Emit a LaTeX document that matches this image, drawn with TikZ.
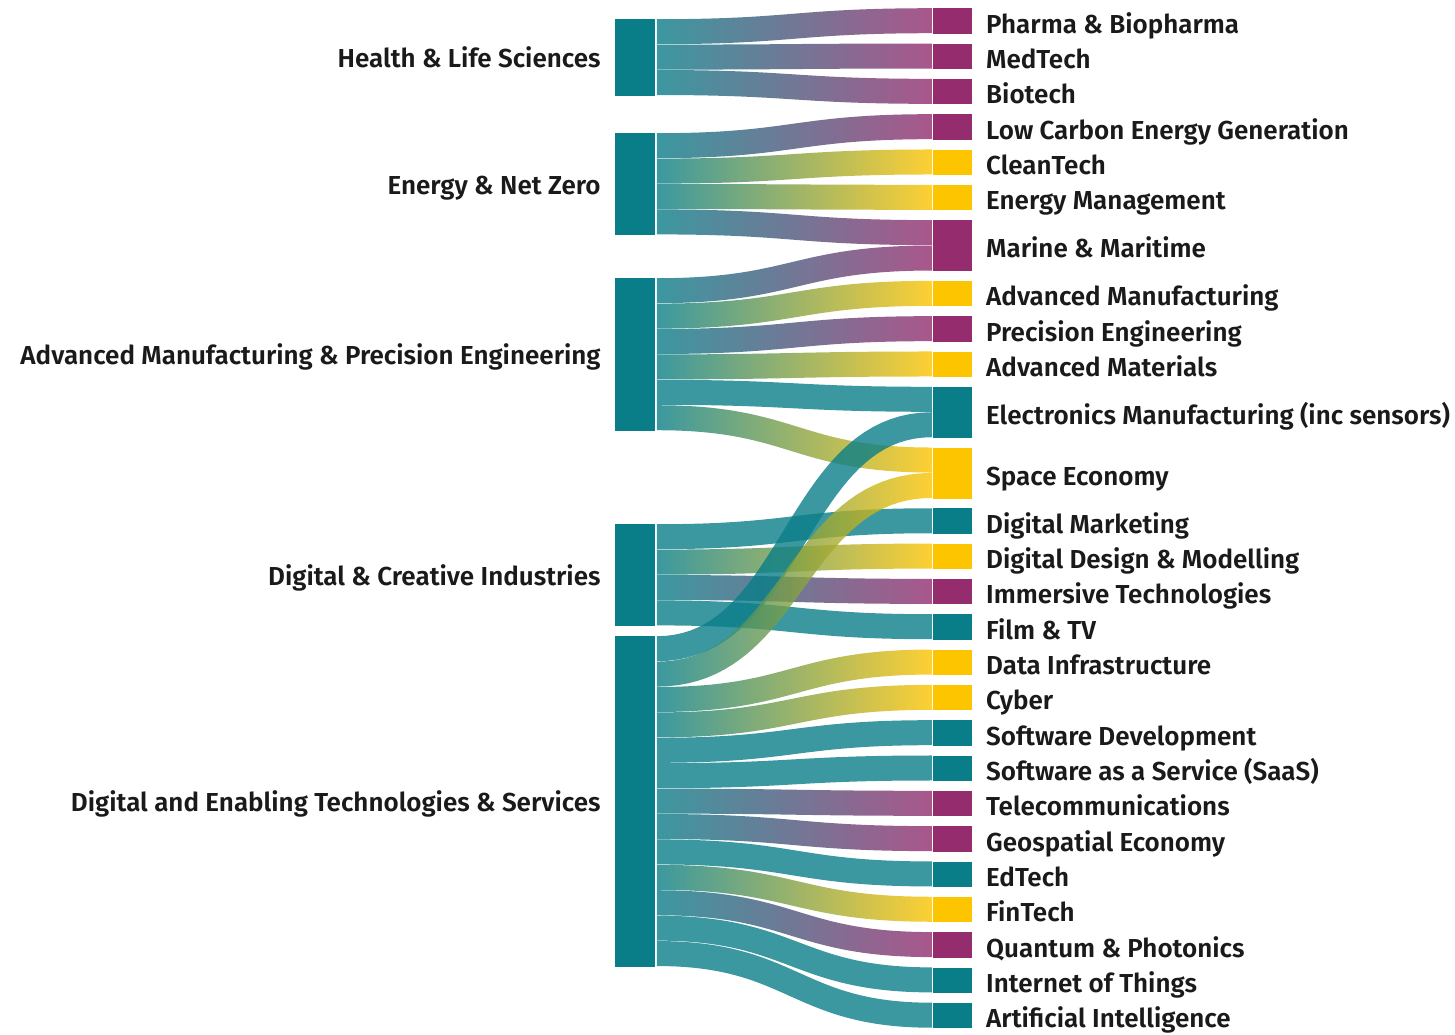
\documentclass[tikz,border=0pt]{standalone}
\usepackage{fontspec}
\setmainfont{Fira Sans SemiBold}
\usetikzlibrary{calc}
\definecolor{tl}{HTML}{0A7E88}
\definecolor{mg}{HTML}{942C6E}
\definecolor{yl}{HTML}{FDC400}
\definecolor{txt}{HTML}{1A1A1A}
\newdimen\fdx
\newdimen\fdy
% #1 source node, #2 slot, #3 target node, #4 slot, #5 #6 colours
\newcommand\flowband[6]{%
  \path (#1.north east) ++(2,#2*25.4+12.7) coordinate (fa);
  \path (#3.north west) ++(-1,#4*25.4+12.7) coordinate (fb);
  \pgfextractx{\fdx}{\pgfpointanchor{fa}{center}}%
  \pgfextracty{\fdy}{\pgfpointanchor{fa}{center}}%
  \pgfmathsetmacro\xa{\fdx/0.5}\pgfmathsetmacro\ya{-\fdy/0.5}%
  \pgfextractx{\fdx}{\pgfpointanchor{fb}{center}}%
  \pgfextracty{\fdy}{\pgfpointanchor{fb}{center}}%
  \pgfmathsetmacro\xb{\fdx/0.5}\pgfmathsetmacro\yb{-\fdy/0.5}%
  \shade[flowband, left color=#5, right color=#6]
    plot[domain=0:1, samples=41, variable=\t]
      ({sx(\t)+12.5*dY(\t)/nL(\t)}, {sy(\t)-12.5*dX(\t)/nL(\t)})
    -- plot[domain=1:0, samples=41, variable=\t]
      ({sx(\t)-12.5*dY(\t)/nL(\t)}, {sy(\t)+12.5*dX(\t)/nL(\t)})
    -- cycle;
}
\begin{document}
\begin{tikzpicture}[x=0.5pt,y=-0.5pt,
  declare function={
    sx(\u)=\xa+(\xb-\xa)*(1.5*\u-1.5*\u*\u+\u*\u*\u);
    sy(\u)=\ya+(\yb-\ya)*(3*\u*\u-2*\u*\u*\u);
    dX(\u)=(\xb-\xa)*(1.5-3*\u+3*\u*\u)/100;
    dY(\u)=(\yb-\ya)*(6*\u-6*\u*\u)/100;
    nL(\u)=veclen(dX(\u),dY(\u));
  },
  lbar/.style={fill=tl, draw=none, inner sep=0pt, minimum width=19.5pt, minimum height=#1*12.7pt, anchor=north west},
  rbar/.style={draw=none, inner sep=0pt, minimum width=19.5pt, minimum height=#1*12.7pt, anchor=north west},
  flowband/.style={fill opacity=0.8},
  ltext/.style={anchor=base east, inner sep=0pt, text=txt, font=\fontsize{13}{15}\selectfont},
  rtext/.style={anchor=base west, inner sep=0pt, text=txt, font=\fontsize{13}{15}\selectfont}]
\useasboundingbox (0,0) rectangle (1455,1034);
% left nodes
\node[lbar=3] (H) at (615,19) {};
\node[lbar=4] (E) at (615,133) {};
\node[lbar=6] (A) at (615,278) {};
\node[lbar=4] (D) at (615,524) {};
\node[lbar=13] (T) at (615,636) {};
% right nodes
\node[rbar=1, fill=mg] (r1) at (933,8) {};
\node[rbar=1, fill=mg] (r2) at (933,43.32) {};
\node[rbar=1, fill=mg] (r3) at (933,78.64) {};
\node[rbar=1, fill=mg] (r4) at (933,113.96) {};
\node[rbar=1, fill=yl] (r5) at (933,149.28) {};
\node[rbar=1, fill=yl] (r6) at (933,184.6) {};
\node[rbar=2, fill=mg] (r7) at (933,219.92) {};
\node[rbar=1, fill=yl] (r8) at (933,280.64) {};
\node[rbar=1, fill=mg] (r9) at (933,315.96) {};
\node[rbar=1, fill=yl] (r10) at (933,351.28) {};
\node[rbar=2, fill=tl] (r11) at (933,386.6) {};
\node[rbar=2, fill=yl] (r12) at (933,447.32) {};
\node[rbar=1, fill=tl] (r13) at (933,508.04) {};
\node[rbar=1, fill=yl] (r14) at (933,543.36) {};
\node[rbar=1, fill=mg] (r15) at (933,578.68) {};
\node[rbar=1, fill=tl] (r16) at (933,614.0) {};
\node[rbar=1, fill=yl] (r17) at (933,649.32) {};
\node[rbar=1, fill=yl] (r18) at (933,684.64) {};
\node[rbar=1, fill=tl] (r19) at (933,719.96) {};
\node[rbar=1, fill=tl] (r20) at (933,755.28) {};
\node[rbar=1, fill=mg] (r21) at (933,790.6) {};
\node[rbar=1, fill=mg] (r22) at (933,825.92) {};
\node[rbar=1, fill=tl] (r23) at (933,861.24) {};
\node[rbar=1, fill=yl] (r24) at (933,896.56) {};
\node[rbar=1, fill=mg] (r25) at (933,931.88) {};
\node[rbar=1, fill=tl] (r26) at (933,967.2) {};
\node[rbar=1, fill=tl] (r27) at (933,1002.52) {};
% flows
\flowband{H}{0}{r1}{0}{tl}{mg}
\flowband{H}{1}{r2}{0}{tl}{mg}
\flowband{H}{2}{r3}{0}{tl}{mg}
\flowband{E}{0}{r4}{0}{tl}{mg}
\flowband{E}{1}{r5}{0}{tl}{yl}
\flowband{E}{2}{r6}{0}{tl}{yl}
\flowband{E}{3}{r7}{0}{tl}{mg}
\flowband{A}{0}{r7}{1}{tl}{mg}
\flowband{A}{1}{r8}{0}{tl}{yl}
\flowband{A}{2}{r9}{0}{tl}{mg}
\flowband{A}{3}{r10}{0}{tl}{yl}
\flowband{A}{4}{r11}{0}{tl}{tl}
\flowband{A}{5}{r12}{0}{tl}{yl}
\flowband{D}{0}{r13}{0}{tl}{tl}
\flowband{D}{1}{r14}{0}{tl}{yl}
\flowband{D}{2}{r15}{0}{tl}{mg}
\flowband{D}{3}{r16}{0}{tl}{tl}
\flowband{T}{0}{r11}{1}{tl}{tl}
\flowband{T}{1}{r12}{1}{tl}{yl}
\flowband{T}{2}{r17}{0}{tl}{yl}
\flowband{T}{3}{r18}{0}{tl}{yl}
\flowband{T}{4}{r19}{0}{tl}{tl}
\flowband{T}{5}{r20}{0}{tl}{tl}
\flowband{T}{6}{r21}{0}{tl}{mg}
\flowband{T}{7}{r22}{0}{tl}{mg}
\flowband{T}{8}{r23}{0}{tl}{tl}
\flowband{T}{9}{r24}{0}{tl}{yl}
\flowband{T}{10}{r25}{0}{tl}{mg}
\flowband{T}{11}{r26}{0}{tl}{tl}
\flowband{T}{12}{r27}{0}{tl}{tl}
% redraw bars on top
\foreach \n in {H,E,A,D,T} {\fill[tl] (\n.north west) rectangle (\n.south east);}
% left labels
\node[ltext] (lH) at ($(H.west)+(-14,10)$) {Health \& Life Sciences};
\node[ltext] (lE) at ($(E.west)+(-14,10)$) {Energy \& Net Zero};
\node[ltext] (lA) at ($(A.west)+(-14,10)$) {Advanced Manufacturing \& Precision Engineering};
\node[ltext] (lD) at ($(D.west)+(-14,10)$) {Digital \& Creative Industries};
\node[ltext] (lT) at ($(T.west)+(-14,10)$) {Digital and Enabling Technologies \& Services};
% right labels
\node[rtext] (t1) at ($(r1.east)+(13,12)$) {Pharma \& Biopharma};
\node[rtext] (t2) at ($(r2.east)+(13,12)$) {MedTech};
\node[rtext] (t3) at ($(r3.east)+(13,12)$) {Biotech};
\node[rtext] (t4) at ($(r4.east)+(13,12)$) {Low Carbon Energy Generation};
\node[rtext] (t5) at ($(r5.east)+(13,12)$) {CleanTech};
\node[rtext] (t6) at ($(r6.east)+(13,12)$) {Energy Management};
\node[rtext] (t7) at ($(r7.east)+(13,12)$) {Marine \& Maritime};
\node[rtext] (t8) at ($(r8.east)+(13,12)$) {Advanced Manufacturing};
\node[rtext] (t9) at ($(r9.east)+(13,12)$) {Precision Engineering};
\node[rtext] (t10) at ($(r10.east)+(13,12)$) {Advanced Materials};
\node[rtext] (t11) at ($(r11.east)+(13,12)$) {Electronics Manufacturing (inc sensors)};
\node[rtext] (t12) at ($(r12.east)+(13,12)$) {Space Economy};
\node[rtext] (t13) at ($(r13.east)+(13,12)$) {Digital Marketing};
\node[rtext] (t14) at ($(r14.east)+(13,12)$) {Digital Design \& Modelling};
\node[rtext] (t15) at ($(r15.east)+(13,12)$) {Immersive Technologies};
\node[rtext] (t16) at ($(r16.east)+(13,12)$) {Film \& TV};
\node[rtext] (t17) at ($(r17.east)+(13,12)$) {Data Infrastructure};
\node[rtext] (t18) at ($(r18.east)+(13,12)$) {Cyber};
\node[rtext] (t19) at ($(r19.east)+(13,12)$) {Software Development};
\node[rtext] (t20) at ($(r20.east)+(13,12)$) {Software as a Service (SaaS)};
\node[rtext] (t21) at ($(r21.east)+(13,12)$) {Telecommunications};
\node[rtext] (t22) at ($(r22.east)+(13,12)$) {Geospatial Economy};
\node[rtext] (t23) at ($(r23.east)+(13,12)$) {EdTech};
\node[rtext] (t24) at ($(r24.east)+(13,12)$) {FinTech};
\node[rtext] (t25) at ($(r25.east)+(13,12)$) {Quantum \& Photonics};
\node[rtext] (t26) at ($(r26.east)+(13,12)$) {Internet of Things};
\node[rtext] (t27) at ($(r27.east)+(13,12)$) {Artificial Intelligence};
\end{tikzpicture}
\end{document}
